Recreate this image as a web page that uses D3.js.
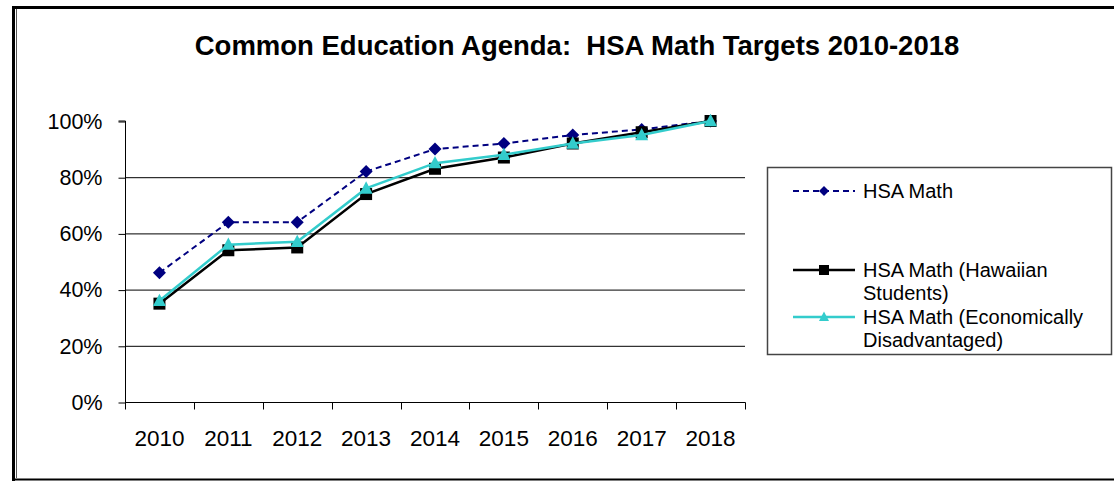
<!DOCTYPE html>
<html>
<head>
<meta charset="utf-8">
<script src="https://cdn.jsdelivr.net/npm/d3@7"></script>
<style>
  html, body { margin: 0; padding: 0; background: #fff; }
  svg { display: block; }
  text { font-family: "Liberation Sans", Arial, sans-serif; fill: #000; }
</style>
</head>
<body>
<svg id="chart" width="1114" height="481"></svg>
<script>
// Target years and the three target series (percent proficient)
const years = ["2010", "2011", "2012", "2013", "2014", "2015", "2016", "2017", "2018"];
const hsaMath = [46, 64, 64, 82, 90, 92, 95, 97, 100];
const hsaHawaiian = [35, 54, 55, 74, 83, 87, 92, 96, 100];
const hsaEconDisadv = [36, 56, 57, 76, 85, 88, 92, 95, 100];
const yTicks = [0, 20, 40, 60, 80, 100];
const gridValues = [20, 40, 60, 80];

const seriesNames = ["HSA Math", "HSA Math (Hawaiian Students)", "HSA Math (Economically Disadvantaged)"];
const legendLines = [["HSA Math"], ["HSA Math (Hawaiian", "Students)"], ["HSA Math (Economically", "Disadvantaged)"]];

const series = [
  { name: seriesNames[0], values: hsaMath, color: "#000080", width: 2, dash: "6,4", marker: "diamond" },
  { name: seriesNames[1], values: hsaHawaiian, color: "#000000", width: 2.5, dash: null, marker: "square" },
  { name: seriesNames[2], values: hsaEconDisadv, color: "#33CCCC", width: 2.5, dash: null, marker: "triangle" }
];

const svg = d3.select("#chart");

// Frame around the whole chart
svg.append("rect").attr("x", 0).attr("y", 0).attr("width", 1114).attr("height", 481).attr("fill", "#fff");
svg.append("line").attr("x1", 12).attr("x2", 1114).attr("y1", 7.5).attr("y2", 7.5).attr("stroke", "#000").attr("stroke-width", 3);
svg.append("line").attr("x1", 13.5).attr("x2", 13.5).attr("y1", 6).attr("y2", 481).attr("stroke", "#000").attr("stroke-width", 3);
svg.append("line").attr("x1", 16.5).attr("x2", 16.5).attr("y1", 9).attr("y2", 478).attr("stroke", "#555").attr("stroke-width", 1);
svg.append("line").attr("x1", 12).attr("x2", 1114).attr("y1", 479.5).attr("y2", 479.5).attr("stroke", "#000").attr("stroke-width", 2);

// Title
svg.append("text")
  .attr("x", 577).attr("y", 55)
  .attr("text-anchor", "middle")
  .style("font-size", "27.5px").style("font-weight", "bold")
  .attr("xml:space", "preserve")
  .text("Common Education Agenda:  HSA Math Targets 2010-2018");

// Scales
const x = d3.scaleBand().domain(years).range([125, 745]);
const y = d3.scaleLinear().domain([0, 100]).range([402, 121]);
const cx = d => x(d) + x.bandwidth() / 2;

// Horizontal gridlines
svg.append("g").selectAll("line").data(gridValues).join("line")
  .attr("x1", 125).attr("x2", 745)
  .attr("y1", d => y(d) + 0.5).attr("y2", d => y(d) + 0.5)
  .attr("stroke", "#000").attr("stroke-width", 1);

// Y axis
const yAxis = d3.axisLeft(y).tickValues(yTicks).tickFormat(d => d + "%").tickSize(7).tickPadding(16);
const gy = svg.append("g").attr("transform", "translate(125.5,0.5)").call(yAxis);
gy.select(".domain").attr("stroke", "#000").attr("d", "M-7,120.5H0V401.5");
gy.selectAll(".tick line").attr("stroke", "#000");
gy.selectAll(".tick text").style("font-size", "21.5px").style("font-family", "'Liberation Sans', Arial, sans-serif").attr("fill", "#000");

// X axis with ticks on category boundaries
const gx = svg.append("g").attr("transform", "translate(0,402.5)");
gx.append("line").attr("x1", 125).attr("x2", 745.5).attr("stroke", "#000");
const boundaries = years.map(d => x(d)).concat([x.range()[1]]);
gx.selectAll("line.tk").data(boundaries).join("line").attr("class", "tk")
  .attr("x1", d => Math.round(d) + 0.5).attr("x2", d => Math.round(d) + 0.5)
  .attr("y1", 0).attr("y2", 7).attr("stroke", "#000");
gx.selectAll("text").data(years).join("text")
  .attr("x", d => cx(d)).attr("y", 43)
  .attr("text-anchor", "middle")
  .style("font-size", "22.5px")
  .text(d => d);

// Marker shapes
function drawMarker(g, type, px, py, color, s) {
  if (type === "diamond") {
    g.append("path").attr("d", `M${px},${py - s}L${px + s},${py}L${px},${py + s}L${px - s},${py}Z`).attr("fill", color);
  } else if (type === "square") {
    g.append("rect").attr("x", px - s).attr("y", py - s).attr("width", 2 * s).attr("height", 2 * s).attr("fill", color);
  } else {
    g.append("path").attr("d", `M${px},${py - s * 1.1}L${px + s},${py + s * 0.8}L${px - s},${py + s * 0.8}Z`).attr("fill", color);
  }
}

// Series lines and markers
const line = d3.line().x((v, i) => cx(years[i])).y(v => y(v));
const markerSize = { diamond: 6.5, square: 6, triangle: 6.5 };
series.forEach(s => {
  const g = svg.append("g");
  g.append("path").attr("d", line(s.values))
    .attr("fill", "none").attr("stroke", s.color).attr("stroke-width", s.width)
    .attr("stroke-dasharray", s.dash);
  s.values.forEach((v, i) => drawMarker(g, s.marker, cx(years[i]), y(v), s.color, markerSize[s.marker]));
});

// Legend
const lg = svg.append("g");
lg.append("rect").attr("x", 767.5).attr("y", 167.5).attr("width", 344).attr("height", 187)
  .attr("fill", "#fff").attr("stroke", "#444").attr("stroke-width", 1.5);
const legendY = [191, 270, 317];
series.forEach((s, i) => {
  const ly = legendY[i];
  lg.append("line").attr("x1", 793).attr("x2", 855).attr("y1", ly).attr("y2", ly)
    .attr("stroke", s.color).attr("stroke-width", s.width).attr("stroke-dasharray", s.dash);
  drawMarker(lg, s.marker, 824, ly, s.color, 5);
  legendLines[i].forEach((t, j) => {
    lg.append("text").attr("x", 863).attr("y", ly + 7 + j * 23)
      .style("font-size", "20px").text(t);
  });
});
</script>
</body>
</html>
